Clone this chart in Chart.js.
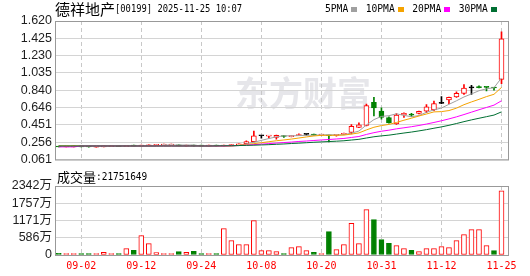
<!DOCTYPE html>
<html><head><meta charset="utf-8">
<script src="https://cdn.jsdelivr.net/npm/chart.js@4/dist/chart.umd.min.js"></script>
<style>
html,body{margin:0;padding:0;background:#fff;width:530px;height:276px;overflow:hidden}
#p{position:absolute;left:0;top:0}
#v{position:absolute;left:0;top:170px}
canvas{display:block}
</style></head><body>
<canvas id="p" width="530" height="170"></canvas>
<canvas id="v" width="530" height="106"></canvas>
<script>
// ---------------- data ----------------
const stockName = '德祥地产';
const stockInfo = '[00199] 2025-11-25 10:07';
const latestVolume = 21751649;
const maNames = ['5PMA', '10PMA', '20PMA', '30PMA'];
const dates = ['08-28','08-29','09-01','09-02','09-03','09-04','09-05','09-08','09-09','09-10',
  '09-11','09-12','09-15','09-16','09-17','09-18','09-19','09-22','09-23','09-24',
  '09-25','09-26','09-29','09-30','10-02','10-03','10-06','10-08','10-09','10-10',
  '10-13','10-14','10-15','10-16','10-17','10-20','10-21','10-22','10-23','10-24',
  '10-27','10-28','10-30','10-31','11-03','11-04','11-05','11-06','11-07','11-10',
  '11-11','11-12','11-13','11-14','11-17','11-18','11-19','11-21','11-24','11-25'];
const xTickLabels = ['09-02','09-12','09-24','10-08','10-20','10-31','11-12','11-25'];
const priceTicks = [0.061, 0.256, 0.451, 0.646, 0.840, 1.035, 1.230, 1.425, 1.620];
const priceTickLabels = ['0.061','0.256','0.451','0.646','0.840','1.035','1.230','1.425','1.620'];
const volTicks = [0, 586, 1171, 1757, 2342];
const volTickLabels = ['0','586万','1171万','1757万','2342万'];
const priorClose = 0.203;

const open = [.204,.202,.203,.204,.203,.201,.203,.205,.207,.206,
  .214,.212,.215,.221,.222,.223,.225,.213,.216,.213,
  .212,.214,.213,.218,.224,.240,.262,.328,.325,.310,
  .330,.318,.330,.343,.345,.335,.335,.333,.343,.365,
  .422,.444,.704,.606,.534,.462,.563,.565,.580,.606,
  .620,.693,.733,.766,.805,.867,.880,.874,.872,.961];
const close = [.202,.203,.204,.203,.202,.203,.206,.207,.205,.213,
  .212,.216,.218,.224,.225,.226,.214,.215,.213,.212,
  .214,.213,.216,.224,.237,.262,.328,.328,.330,.332,
  .320,.325,.342,.343,.336,.337,.328,.337,.355,.433,
  .451,.668,.642,.534,.473,.560,.581,.561,.603,.653,
  .690,.693,.762,.805,.865,.867,.870,.872,.866,1.420];
const high = [.204,.204,.215,.204,.203,.203,.206,.207,.207,.215,
  .214,.220,.219,.225,.226,.227,.226,.216,.217,.214,
  .215,.215,.217,.228,.238,.270,.382,.330,.333,.335,
  .332,.328,.350,.345,.346,.339,.337,.338,.357,.455,
  .473,.686,.762,.642,.540,.577,.585,.580,.605,.679,
  .718,.769,.765,.823,.903,.896,.890,.876,.874,1.499];
const low = [.202,.202,.203,.203,.201,.200,.203,.205,.205,.205,
  .212,.211,.214,.220,.222,.222,.214,.212,.212,.211,
  .211,.212,.212,.217,.222,.238,.258,.300,.300,.290,
  .310,.315,.328,.335,.334,.333,.258,.325,.340,.350,
  .418,.440,.552,.516,.470,.455,.534,.545,.575,.588,
  .610,.690,.690,.760,.794,.794,.868,.834,.842,.914];
// volume in 万
const volume = [57,50,50,50,50,50,90,50,50,215,
  160,656,385,80,50,50,113,90,125,50,
  50,50,894,487,351,351,1166,147,147,113,
  50,249,283,147,90,50,792,181,351,1075,
  385,1539,1200,521,396,317,215,158,113,215,
  215,283,249,487,690,860,860,317,147,2175];
const ma5 = [.213,.213,.213,.213,.213,.213,.213,.213,.213,.213,
  .213,.213,.213,.213,.224,.224,.224,.224,.224,.213,
  .213,.213,.213,.213,.217,.238,.256,.276,.297,.316,
  .328,.327,.330,.333,.335,.338,.339,.337,.340,.358,
  .381,.449,.510,.546,.554,.575,.558,.542,.556,.592,
  .619,.641,.682,.722,.765,.799,.835,.857,.869,.979];
const ma10 = [.213,.213,.213,.213,.213,.213,.213,.213,.213,.213,
  .213,.213,.213,.213,.213,.213,.213,.213,.213,.213,
  .213,.213,.213,.213,.222,.229,.239,.250,.261,.272,
  .281,.291,.303,.315,.326,.333,.333,.334,.336,.347,
  .360,.394,.424,.443,.456,.478,.503,.526,.551,.573,
  .597,.600,.612,.639,.678,.709,.738,.769,.795,.872];
const ma20 = [.203,.203,.203,.213,.213,.213,.213,.213,.213,.213,
  .213,.213,.213,.213,.213,.213,.213,.213,.213,.213,
  .213,.213,.213,.216,.219,.222,.228,.234,.240,.246,
  .252,.257,.264,.269,.275,.281,.286,.292,.298,.309,
  .320,.343,.363,.379,.391,.406,.418,.430,.444,.460,
  .478,.497,.518,.541,.567,.594,.621,.647,.673,.722];
const ma30 = [.213,.213,.213,.213,.213,.213,.213,.213,.213,.213,
  .213,.213,.213,.213,.213,.213,.213,.213,.213,.213,
  .213,.214,.215,.216,.218,.220,.222,.225,.228,.232,
  .236,.241,.245,.250,.255,.259,.263,.267,.272,.280,
  .288,.303,.317,.327,.335,.347,.359,.370,.383,.397,
  .413,.428,.446,.466,.487,.507,.525,.543,.561,.597];

// ---------------- styling ----------------
const RED = '#ff0000', GREEN = '#008000', BLACK = '#000000';
const MA_COLORS = ['#a0a0a0', '#f5a300', '#ff00ff', '#006f32'];
const FRAME = '#999999', HGRID = '#d4d4d4', VGRID = '#c8c8c8';
const TICK_FONT = {family: "'Liberation Sans','Noto Sans CJK SC',sans-serif", size: 12.5};
Chart.defaults.animation = false;

const tickIdx = xTickLabels.map(l => dates.indexOf(l));
const xMin = -0.5, xMax = dates.length;

const candleCol = dates.map((d, i) => close[i] > open[i] ? RED : (close[i] < open[i] ? GREEN : BLACK));
const candleFill = dates.map((d, i) => close[i] > open[i] ? '#ffffff' : candleCol[i]);
const volUp = dates.map((d, i) => close[i] >= (i === 0 ? priorClose : close[i - 1]));
const volCol = volUp.map(u => u ? RED : GREEN);
const volFill = volUp.map(u => u ? '#ffffff' : GREEN);

function drawText(ctx, text, x, y, font, color, sx) {
  sx = sx || 1;
  ctx.save();
  ctx.font = font; ctx.fillStyle = color; ctx.textBaseline = 'middle'; ctx.textAlign = 'left';
  ctx.translate(x, y); ctx.scale(sx, 1); ctx.fillText(text, 0, 0);
  const w = ctx.measureText(text).width * sx;
  ctx.restore();
  return w;
}
const MONO = "11px 'DejaVu Sans Mono'";

function xScale(showLabels) {
  return {
    type: 'linear', min: xMin, max: xMax, offset: false,
    afterBuildTicks: ax => { ax.ticks = tickIdx.map(v => ({value: v})); },
    ticks: showLabels ? {
      autoSkip: false, maxRotation: 0, padding: 5, color: RED,
      font: {family: "'DejaVu Sans Mono'", size: 10},
      callback: v => dates[v]
    } : {display: false},
    grid: {color: VGRID, lineWidth: 1, drawTicks: false, offset: false},
    border: {display: false, dash: [4, 3]},
    afterFit: ax => { ax.height = showLabels ? 21 : 0; }
  };
}

const decoPrice = {
  id: 'decoPrice',
  beforeDraw(chart) {
    const ctx = chart.ctx;
    ctx.save(); ctx.fillStyle = '#fff'; ctx.fillRect(0, 0, chart.width, chart.height); ctx.restore();
    drawText(ctx, '东方财富', 235, 93, "bold 34px 'Noto Sans CJK SC'", '#e6e6ea');
  },
  afterDraw(chart) {
    const ctx = chart.ctx, ca = chart.chartArea;
    ctx.save(); ctx.strokeStyle = FRAME; ctx.lineWidth = 1;
    ctx.strokeRect(ca.left + 0.5, ca.top + 0.5, ca.right - ca.left - 1, ca.bottom - ca.top);
    ctx.restore();
    let x = 55;
    x += drawText(ctx, stockName, x, 9.5, "15px 'Noto Sans CJK SC'", '#000');
    drawText(ctx, stockInfo, x, 9.5, MONO, '#000', 0.8);
    let lx = 325;
    maNames.forEach((n, k) => {
      lx += drawText(ctx, n, lx, 9, MONO, '#000', 0.876);
      ctx.fillStyle = MA_COLORS[k];
      ctx.fillRect(Math.round(lx + 3), 7, 6, 5);
      lx += 3 + 6 + 8.5;
    });
  }
};

new Chart(document.getElementById('p'), {
  type: 'bar',
  data: {datasets: [
    {type: 'line', label: maNames[3], data: ma30.map((v, i) => ({x: i, y: v})), borderColor: MA_COLORS[3], borderWidth: 1, pointRadius: 0, tension: 0, order: 0},
    {type: 'line', label: maNames[2], data: ma20.map((v, i) => ({x: i, y: v})), borderColor: MA_COLORS[2], borderWidth: 1, pointRadius: 0, tension: 0, order: 1},
    {type: 'line', label: maNames[1], data: ma10.map((v, i) => ({x: i, y: v})), borderColor: MA_COLORS[1], borderWidth: 1, pointRadius: 0, tension: 0, order: 2},
    {type: 'line', label: maNames[0], data: ma5.map((v, i) => ({x: i, y: v})), borderColor: MA_COLORS[0], borderWidth: 1, pointRadius: 0, tension: 0, order: 3},
    {type: 'bar', label: 'body', data: dates.map((d, i) => ({x: i, y: [open[i], close[i]]})),
     backgroundColor: candleFill, borderColor: candleCol, borderWidth: 1, borderSkipped: false,
     barThickness: 5, minBarLength: 1, grouped: false, order: 10},
    {type: 'bar', label: 'wick', data: dates.map((d, i) => ({x: i, y: [low[i], high[i]]})),
     backgroundColor: candleCol, borderWidth: 0, barThickness: 1, minBarLength: 1, grouped: false, order: 11}
  ]},
  options: {
    responsive: false, devicePixelRatio: 1, animation: false,
    layout: {padding: {left: 0, right: 21, top: 21, bottom: 5}},
    plugins: {legend: {display: false}, tooltip: {enabled: false}, title: {display: false}},
    scales: {
      x: xScale(false),
      y: {
        type: 'linear', min: priceTicks[0], max: priceTicks[priceTicks.length - 1],
        afterBuildTicks: ax => { ax.ticks = priceTicks.map(v => ({value: v})); },
        ticks: {autoSkip: false, padding: 3, color: '#1e1e1e', font: TICK_FONT, callback: (v, i) => priceTickLabels[i]},
        grid: {color: HGRID, drawTicks: false},
        border: {display: false},
        afterFit: ax => { ax.width = 55; }
      }
    }
  },
  plugins: [decoPrice]
});

const decoVol = {
  id: 'decoVol',
  beforeDraw(chart) {
    const ctx = chart.ctx;
    ctx.save(); ctx.fillStyle = '#fff'; ctx.fillRect(0, 0, chart.width, chart.height); ctx.restore();
  },
  afterDraw(chart) {
    const ctx = chart.ctx, ca = chart.chartArea;
    ctx.save(); ctx.strokeStyle = FRAME; ctx.lineWidth = 1;
    ctx.strokeRect(ca.left + 0.5, ca.top + 0.5, ca.right - ca.left - 1, ca.bottom - ca.top);
    ctx.restore();
    let x = 57;
    x += drawText(ctx, '成交量', x, 7.5, "13px 'Noto Sans CJK SC'", '#000');
    drawText(ctx, ':' + latestVolume, x, 7.5, MONO, '#000', 0.86);
  }
};

new Chart(document.getElementById('v'), {
  type: 'bar',
  data: {datasets: [
    {label: 'volume', data: volume.map((v, i) => ({x: i, y: v})),
     backgroundColor: volFill, borderColor: volCol, borderWidth: 1, borderSkipped: false,
     barThickness: 5, grouped: false}
  ]},
  options: {
    responsive: false, devicePixelRatio: 1, animation: false,
    layout: {padding: {left: 0, right: 21, top: 16, bottom: 0}},
    plugins: {legend: {display: false}, tooltip: {enabled: false}},
    scales: {
      x: xScale(true),
      y: {
        type: 'linear', min: volTicks[0], max: volTicks[volTicks.length - 1],
        afterBuildTicks: ax => { ax.ticks = volTicks.map(v => ({value: v})); },
        ticks: {autoSkip: false, padding: 3, color: '#1e1e1e', font: TICK_FONT, callback: (v, i) => volTickLabels[i]},
        grid: {color: HGRID, drawTicks: false},
        border: {display: false},
        afterFit: ax => { ax.width = 55; }
      }
    }
  },
  plugins: [decoVol]
});
</script>
</body></html>
